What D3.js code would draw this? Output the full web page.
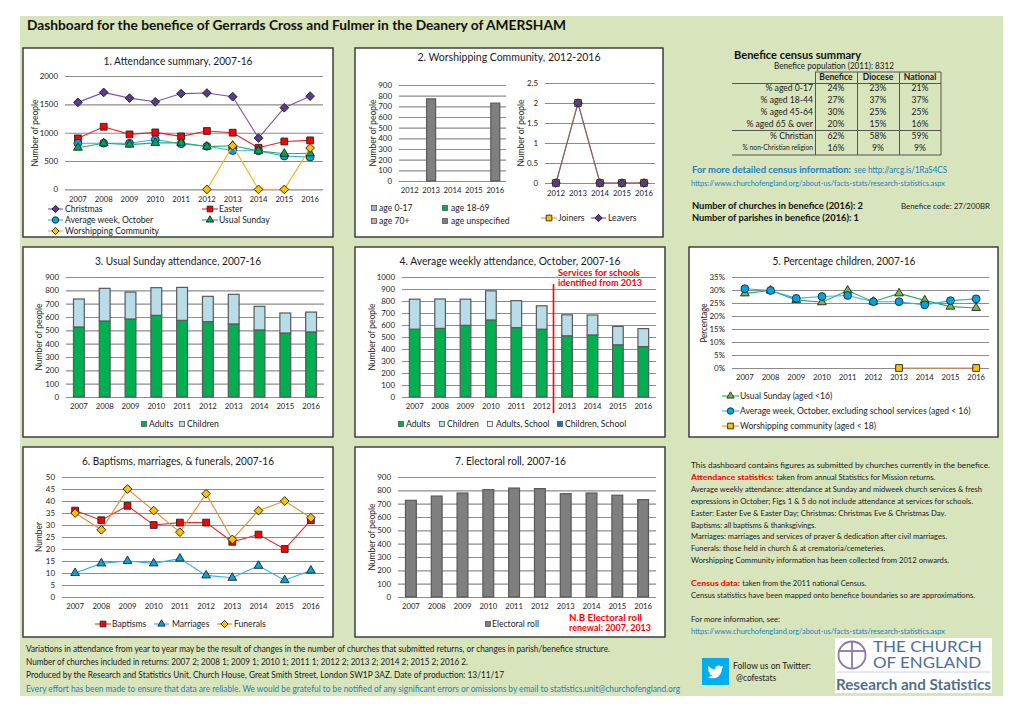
<!DOCTYPE html>
<html><head><meta charset="utf-8">
<script src="https://cdn.jsdelivr.net/npm/d3@7/dist/d3.min.js"></script>
<style>
html,body{margin:0;padding:0;background:#fff}
svg{display:block}
text{font-family:Lato,"Open Sans",sans-serif;fill:#1a1a1a}
</style></head><body>
<svg id="c" width="1020" height="721"></svg>
<script>
// ---- data ----
const years10=[2007,2008,2009,2010,2011,2012,2013,2014,2015,2016];
const years5=[2012,2013,2014,2015,2016];
const christmas=[1535,1710,1610,1545,1690,1700,1635,905,1440,1645];
const easter=[900,1105,970,1005,935,1030,1000,735,845,865];
const avgWeek=[815,815,815,880,805,760,685,680,588,570];
const usualSunday=[735,815,790,820,822,755,770,680,630,637];
const worshipping=[null,null,null,null,null,0,770,0,0,730];
const wcUnspecified=[0,770,0,0,730];
const joiners=[0,2,0,0,0];
const leavers=[0,2,0,0,0];
const usAdults=[525,570,585,612,575,565,548,503,480,488];
const usChildren=[210,245,202,208,247,190,222,177,150,149];
const awAdults=[565,572,597,642,578,565,510,517,435,420];
const awChildren=[250,245,218,243,225,195,175,166,153,150];
const pctUsual=[28.7,29.8,26.2,25.3,29.8,25.5,28.7,26,23.6,23.1];
const pctAvg=[30.5,29.8,26.8,27.5,27.9,25.5,25.5,24.3,25.9,26.6];
const pctWorship=[null,null,null,null,null,null,0,null,null,0];
const baptisms=[36,32,38,30,31,31,23,26,20,32];
const marriages=[10,14,15,14,16,9,8,13,7,11];
const funerals=[35,28,45,36,27,43,24,36,40,33];
const electoral=[725,757,780,805,817,813,775,780,763,730];
const censusRows=["% aged 0-17","% aged 18-44","% aged 45-64","% aged 65 & over","% Christian","% non-Christian religion"];
const censusHead=["Benefice","Diocese","National"];
const censusBenefice=["24%","27%","30%","20%","62%","16%"];
const censusDiocese=["23%","37%","25%","15%","58%","9%"];
const censusNational=["21%","37%","25%","16%","59%","9%"];
const notes=[
 "This dashboard contains figures as submitted by churches currently in the benefice.",
 "Average weekly attendance: attendance at Sunday and midweek church services & fresh",
 "expressions in October; Figs 1 & 5 do not include attendance at services for schools.",
 "Easter: Easter Eve & Easter Day; Christmas: Christmas Eve & Christmas Day.",
 "Baptisms: all baptisms & thanksgivings.",
 "Marriages: marriages and services of prayer & dedication after civil marriages.",
 "Funerals: those held in church & at crematoria/cemeteries.",
 "Worshipping Community information has been collected from 2012 onwards.",
 "Census statistics have been mapped onto benefice boundaries so are approximations.",
 "For more information, see:"];
const footer=[
 "Variations in attendance from year to year may be the result of changes in the number of churches that submitted returns, or changes in parish/benefice structure.",
 "Number of churches included in returns: 2007 2; 2008 1; 2009 1; 2010 1; 2011 1; 2012 2; 2013 2; 2014 2; 2015 2; 2016 2.",
 "Produced by the Research and Statistics Unit, Church House, Great Smith Street, London SW1P 3AZ. Date of production: 13/11/17"];

// ---- helpers ----
const svg=d3.select("#c");
const GREEN="#d8e4bc",BLUE="#1b7fc0",RED="#ff0000",GRID="#8c8c8c",BAR="#595959";
svg.append("rect").attr("x",20).attr("y",16).attr("width",983).attr("height",680).attr("fill",GREEN);
function T(x,y,s,o={}){
  const e=(o.g||svg).append("text").attr("x",x).attr("y",y).attr("dy","0.34em").text(s)
    .attr("font-size",o.size||8.6).attr("text-anchor",o.anchor||"start");
  if(o.bold)e.attr("font-weight",700);
  if(o.color)e.style("fill",o.color);
  if(o.w)e.attr("textLength",o.w).attr("lengthAdjust","spacingAndGlyphs");
  return e;
}
function panel(x0,y0,x1,y1,title,cx,ty,w){
  svg.append("rect").attr("x",x0).attr("y",y0).attr("width",x1-x0).attr("height",y1-y0)
    .attr("fill","#fff").attr("stroke","#333").attr("stroke-width",1.4);
  T(cx,ty,title,{size:11.8,anchor:"middle",w});
}
function axes(c){
  const g=svg.append("g");
  const y=d3.scaleLinear().domain([0,c.max]).range([c.y0,c.y1]);
  const x=d3.scaleBand().domain(c.cats).range([c.x0,c.x1]);
  const ya=d3.axisLeft(y).tickValues(d3.range(0,c.max+c.step/2,c.step)).tickFormat(c.fmt||(d=>d))
    .tickSize(-(c.x1-c.x0)).tickPadding(7);
  const yg=g.append("g").attr("transform",`translate(${c.x0},0)`).call(ya);
  yg.select(".domain").remove();
  yg.selectAll("line").attr("stroke",GRID).attr("stroke-width",1.1);
  yg.selectAll("text").attr("font-size",7.9).style("font-family","Lato");
  const xa=d3.axisBottom(x).tickSize(0).tickPadding(c.xpad||7);
  const xg=g.append("g").attr("transform",`translate(0,${c.y0})`).call(xa);
  xg.select(".domain").remove();
  xg.selectAll("text").attr("font-size",7.7).style("font-family","Lato");
  svg.append("text").text(c.ylabel).attr("font-size",9).attr("text-anchor","middle")
    .attr("transform",`translate(${c.lx},${c.ly}) rotate(-90)`).attr("dy","0.34em")
    .attr("textLength",c.lw||67).attr("lengthAdjust","spacingAndGlyphs");
  return {x,y};
}
function bars(s,c,series){
  const w=s.x.bandwidth()*(c.bw||0.42), off=(s.x.bandwidth()-w)/2;
  const base=c.cats.map(()=>0);
  series.forEach(se=>{
    svg.append("g").selectAll("rect").data(se.values).join("rect")
      .attr("x",(d,i)=>s.x(c.cats[i])+off).attr("width",w)
      .attr("y",(d,i)=>s.y(base[i]+d)).attr("height",(d,i)=>s.y(base[i])-s.y(base[i]+d))
      .attr("fill",se.fill).attr("stroke",BAR).attr("stroke-width",d=>d>0?1.2:0);
    se.values.forEach((d,i)=>base[i]+=d);
  });
}
const SYM={diamond:d3.symbolSquare,square:d3.symbolSquare,circle:d3.symbolCircle,triangle:d3.symbolTriangle};
function marker(g,cx,cy,m){
  const size={diamond:38,square:46,circle:48,triangle:33}[m.shape]*(m.k||1);
  g.append("path").attr("d",d3.symbol().type(SYM[m.shape]).size(size)())
   .attr("transform",`translate(${cx},${cy})`+(m.shape==="diamond"?" rotate(45)":""))
   .attr("fill",m.fill).attr("stroke","#222").attr("stroke-width",.9);
}
function lines(s,c,se){
  const g=svg.append("g");
  const pts=se.values.map((v,i)=>v==null?null:[s.x(c.cats[i])+s.x.bandwidth()/2,s.y(v)]).filter(Boolean);
  g.append("path").attr("d",d3.line()(pts)).attr("fill","none").attr("stroke",se.stroke).attr("stroke-width",1.1);
  pts.forEach(p=>marker(g,p[0],p[1],se));
}
function lineKey(x0,x1,y,textX,label,se){
  const g=svg.append("g");
  g.append("line").attr("x1",x0).attr("x2",x1).attr("y1",y).attr("y2",y).attr("stroke",se.stroke).attr("stroke-width",1.1);
  marker(g,(x0+x1)/2,y,{...se,k:.7});
  T(textX,y,label,{size:8.6});
}
function boxKey(x,y,textX,label,fill){
  svg.append("rect").attr("x",x-2.5).attr("y",y-2.5).attr("width",5).attr("height",5)
    .attr("fill",fill).attr("stroke","#555").attr("stroke-width",.8);
  T(textX,y,label,{size:8.6});
}

// styles
const sChristmas={shape:"diamond",fill:"#5a3a8c",stroke:"#7b52a8"};
const sEaster={shape:"square",fill:"#ff0000",stroke:"#e8212b"};
const sAvg={shape:"circle",fill:"#00a4e4",stroke:"#2cb4ea"};
const sUsual={shape:"triangle",fill:"#00a651",stroke:"#1fb068"};
const sUsualLight={shape:"triangle",fill:"#7ab648",stroke:"#1fb068"};
const sWorship={shape:"diamond",fill:"#ffc000",stroke:"#f2b318"};
const sWorshipSq={shape:"square",fill:"#ffc000",stroke:"#ed8a2e"};
const sBapt={shape:"square",fill:"#ff0000",stroke:"#ee2b2b"};
const sMarr={shape:"triangle",fill:"#00a4e4",stroke:"#2cb4ea"};
const sFun={shape:"diamond",fill:"#ffc000",stroke:"#ed8a2e"};
const sJoin={shape:"square",fill:"#ffc000",stroke:"#ed8a2e"};
const sLeav={shape:"diamond",fill:"#5a3a8c",stroke:"#7b5a78"};
const ADULT="#00b050",CHILD="#b7dde8",GREYBAR="#7f7f7f";

// title
T(27,25.5,"Dashboard for the benefice of Gerrards Cross and Fulmer in the Deanery of AMERSHAM",{size:14,bold:true,color:"#111",w:539});

// Chart 1
panel(23,48,333,237,"1. Attendance summary, 2007-16",178,61,149);
{const c={cats:years10,x0:65,x1:323,y0:189.4,y1:76,max:2000,step:500,ylabel:"Number of people",lx:35,ly:133};
 const s=axes(c);
 lines(s,c,{...sChristmas,values:christmas});
 lines(s,c,{...sEaster,values:easter});
 lines(s,c,{...sAvg,values:avgWeek});
 lines(s,c,{...sUsual,values:usualSunday});
 lines(s,c,{...sWorship,values:worshipping});
 lineKey(48,63,209,65,"Christmas",sChristmas);
 lineKey(202,218,209,219,"Easter",sEaster);
 lineKey(48,63,220,65,"Average week, October",sAvg);
 lineKey(202,218,220,219,"Usual Sunday",sUsual);
 lineKey(48,63,231,65,"Worshipping Community",sWorship);
}
// Chart 2
panel(355,48,663,237,"2. Worshipping Community, 2012-2016",509,57,183);
{const c={cats:years5,x0:399,x1:506,y0:181,y1:85,max:900,step:100,ylabel:"Number of people",lx:373,ly:133,bw:.42};
 const s=axes(c);
 bars(s,c,[{values:wcUnspecified,fill:GREYBAR}]);
 boxKey(374,208,379,"age 0-17","#8db9d8");
 boxKey(445,208,451,"age 18-69",ADULT);
 boxKey(374,221,379,"age 70+","#e6a0a0");
 boxKey(445,221,451,"age unspecified",GREYBAR);
 const c2={cats:years5,x0:545,x1:655,y0:183,y1:83,max:2.5,step:.5,ylabel:"Number of people",lx:521,ly:133,xpad:8};
 const s2=axes(c2);
 lines(s2,c2,{...sJoin,values:joiners});
 lines(s2,c2,{...sLeav,values:leavers});
 lineKey(541,557,218,558,"Joiners",sJoin);
 lineKey(591,606,218,608,"Leavers",sLeav);
}
// Chart 3
panel(23,247,333,437,"3. Usual Sunday attendance, 2007-16",178,261,166);
{const c={cats:years10,x0:66,x1:324,y0:397,y1:277,max:900,step:100,ylabel:"Number of people",lx:39,ly:337};
 const s=axes(c);
 bars(s,c,[{values:usAdults,fill:ADULT},{values:usChildren,fill:CHILD}]);
 boxKey(144,424,149,"Adults",ADULT);
 boxKey(182,424,187,"Children",CHILD);
}
// Chart 4
panel(355,247,665,437,"4. Average weekly attendance, October, 2007-16",510,261,221);
{const c={cats:years10,x0:402,x1:656,y0:397,y1:277,max:1000,step:100,ylabel:"Number of people",lx:372,ly:337};
 const s=axes(c);
 bars(s,c,[{values:awAdults,fill:ADULT},{values:awChildren,fill:CHILD}]);
 svg.append("line").attr("x1",553.5).attr("x2",553.5).attr("y1",284).attr("y2",413).attr("stroke",RED).attr("stroke-width",1.6);
 T(558,273,"Services for schools",{size:9,bold:true,color:RED,w:82});
 T(558,283,"identified from 2013",{size:9,bold:true,color:RED,w:84});
 boxKey(401,424,406,"Adults",ADULT);
 boxKey(442,424,447,"Children",CHILD);
 boxKey(490,424,496,"Adults, School","#f2f2e0");
 boxKey(560,424,565,"Children, School","#1f6fb4");
}
// Chart 5
panel(689,247,998,437,"5. Percentage children, 2007-16",844,261,143);
{const c={cats:years10,x0:732,x1:989,y0:368,y1:277,max:35,step:5,fmt:d=>d+"%",ylabel:"Percentage",lx:704,ly:323,lw:39};
 const s=axes(c);
 lines(s,c,{...sUsualLight,values:pctUsual});
 lines(s,c,{...sAvg,values:pctAvg});
 lines(s,c,{...sWorshipSq,values:pctWorship});
 lineKey(722,739,396,740,"Usual Sunday (aged <16)",sUsualLight);
 lineKey(722,739,411,740,"Average week, October, excluding school services (aged < 16)",sAvg);
 lineKey(722,739,426,740,"Worshipping community (aged < 18)",sWorshipSq);
}
// Chart 6
panel(23,447,333,637,"6. Baptisms, marriages, & funerals, 2007-16",178,461,192);
{const c={cats:years10,x0:62,x1:324,y0:597,y1:477,max:50,step:5,ylabel:"Number",lx:39,ly:537,lw:30};
 const s=axes(c);
 lines(s,c,{...sBapt,values:baptisms});
 lines(s,c,{...sMarr,values:marriages});
 lines(s,c,{...sFun,values:funerals});
 lineKey(95,111,624,112,"Baptisms",sBapt);
 lineKey(154,169,624,172,"Marriages",sMarr);
 lineKey(217,232,624,234,"Funerals",sFun);
}
// Chart 7
panel(355,447,665,637,"7. Electoral roll, 2007-16",510.5,461,111);
{const c={cats:years10,x0:398,x1:656,y0:597,y1:477,max:900,step:100,ylabel:"Number of people",lx:372,ly:537};
 const s=axes(c);
 bars(s,c,[{values:electoral,fill:GREYBAR}]);
 boxKey(488,624,492,"Electoral roll",GREYBAR);
 T(569,618,"N.B Electoral roll",{size:9,bold:true,color:RED,w:73});
 T(569,628,"renewal: 2007, 2013",{size:9,bold:true,color:RED,w:82});
}

// Census table
T(734,55,"Benefice census summary",{size:10.6,bold:true,color:"#111",w:127});
T(774,66,"Benefice population (2011): 8312",{size:8.6,w:120});
const colX=[836,878,920], rowY=[88,100,112,124,136,148];
censusHead.forEach((h,i)=>T(colX[i],77,h,{size:8.6,bold:true,anchor:"middle"}));
censusRows.forEach((r,i)=>{
  T(813,rowY[i],r,{size:i===5?6.7:8.6,anchor:"end"});
  [censusBenefice,censusDiocese,censusNational].forEach((col,j)=>T(colX[j],rowY[i],col[i],{size:8.6,anchor:"middle"}));
});
const tl=svg.append("g").attr("stroke","#555").attr("stroke-width",1);
[[815,72,941,72],[732,83.5,941,83.5],[732,130.5,941,130.5],[732,155,941,155],
 [815.5,72,815.5,155],[857.5,72,857.5,155],[899.5,72,899.5,155],[941,72,941,155]].forEach(a=>
  tl.append("line").attr("x1",a[0]).attr("y1",a[1]).attr("x2",a[2]).attr("y2",a[3]));
T(692,170,"For more detailed census information:",{size:9.2,bold:true,color:BLUE,w:159});
T(854,170,"see http://arcg.is/1RaS4CS",{size:8.6,color:BLUE,w:93});
T(691,183,"https://www.churchofengland.org/about-us/facts-stats/research-statistics.aspx",{size:7.4,color:BLUE,w:254});
T(692,206,"Number of churches in benefice (2016): 2",{size:9.2,bold:true,color:"#111",w:171});
T(692,218,"Number of parishes in benefice (2016): 1",{size:9.2,bold:true,color:"#111",w:167});
T(901,206,"Benefice code: 27/200BR",{size:8.2,w:89});

// Notes
const noteY=[465,489,501,513,525,536,548,560,595,619];
const noteW=[299,291,282,255,125,256,194,258,284,89];
notes.forEach((n,i)=>T(691,noteY[i],n,{size:8.2,w:noteW[i]}));
T(691,477,"Attendance statistics:",{size:8,bold:true,color:RED,w:83});
T(776.3,477,"taken from annual Statistics for Mission returns.",{size:8,w:159});
T(691,583,"Census data:",{size:8,bold:true,color:RED,w:49});
T(742.3,583,"taken from the 2011 national Census.",{size:8,w:124});
T(691,631,"https://www.churchofengland.org/about-us/facts-stats/research-statistics.aspx",{size:7.4,color:BLUE,w:254});

// Footer
const footY=[649,662,675], footW=[584,442,478];
footer.forEach((f,i)=>T(26,footY[i],f,{size:8.6,w:footW[i]}));
T(26,689,"Every effort has been made to ensure that data are reliable. We would be grateful to be notified of any significant errors or omissions by email to statistics.unit@churchofengland.org",{size:8.6,color:BLUE,w:654});

// Twitter
svg.append("rect").attr("x",702).attr("y",658).attr("width",27).attr("height",27).attr("fill","#00aeef");
svg.append("path").attr("transform","translate(707.5,664) scale(0.66)").attr("fill","#fff")
 .attr("d","M23.953 4.57a10 10 0 01-2.825.775 4.958 4.958 0 002.163-2.723c-.951.555-2.005.959-3.127 1.184a4.92 4.92 0 00-8.384 4.482C7.69 8.095 4.067 6.13 1.64 3.162a4.822 4.822 0 00-.666 2.475c0 1.71.87 3.213 2.188 4.096a4.904 4.904 0 01-2.228-.616v.06a4.923 4.923 0 003.946 4.827 4.996 4.996 0 01-2.212.085 4.936 4.936 0 004.604 3.417 9.867 9.867 0 01-6.102 2.105c-.39 0-.779-.023-1.17-.067a13.995 13.995 0 007.557 2.209c9.053 0 13.998-7.496 13.998-13.985 0-.21 0-.42-.015-.63A9.935 9.935 0 0024 4.59z");
T(733,666,"Follow us on Twitter:",{size:8.8,w:78});
T(736,678,"@cofestats",{size:8.8,w:40});

// Logo
svg.append("rect").attr("x",835).attr("y",638).attr("width",157).attr("height",55).attr("fill","#fff");
svg.append("circle").attr("cx",852).attr("cy",655).attr("r",13.5).attr("fill","none").attr("stroke","#8a78b4").attr("stroke-width",1.8);
svg.append("line").attr("x1",852).attr("x2",852).attr("y1",641).attr("y2",668).attr("stroke","#8a78b4").attr("stroke-width",1.8);
svg.append("line").attr("x1",838).attr("x2",866).attr("y1",651).attr("y2",651).attr("stroke","#8a78b4").attr("stroke-width",1.8);
T(873,647.5,"THE CHURCH",{size:14.6,color:"#4d6f9c",w:109});
T(873,663,"OF ENGLAND",{size:14.6,color:"#4d6f9c",w:108});
svg.append("line").attr("x1",837).attr("x2",990).attr("y1",672).attr("y2",672).attr("stroke","#c9d4dc").attr("stroke-width",1);
T(836,685,"Research and Statistics",{size:15.5,bold:true,color:"#527089",w:155});
</script></body></html>
